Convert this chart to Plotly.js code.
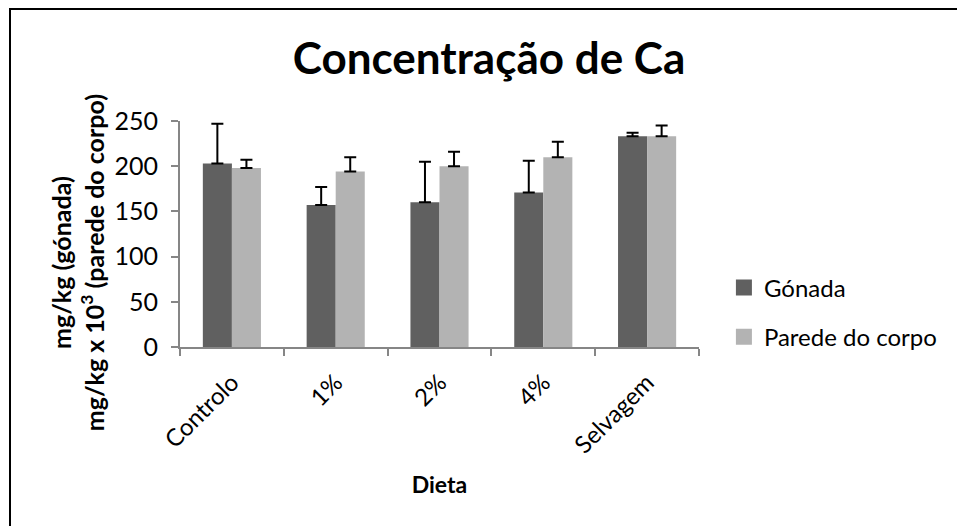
<!DOCTYPE html>
<html>
<head>
<meta charset="utf-8">
<script src="https://cdn.plot.ly/plotly-3.0.1.min.js"></script>
<style>
html,body{margin:0;padding:0;background:#fff;}
#wrap{position:relative;width:957px;height:526px;overflow:hidden;}
#chart{width:957px;height:526px;}
#frame{position:absolute;left:9px;top:8px;width:1000px;height:600px;border-top:2px solid #000;border-left:2px solid #000;pointer-events:none;}
</style>
</head>
<body>
<div id="wrap"><div id="chart"></div><div id="frame"></div></div>
<script>
const categories = ["Controlo", "1%", "2%", "4%", "Selvagem"];
const gonada = [203, 157, 160, 171, 233];
const gonadaErr = [44, 20, 45, 35, 4];
const parede = [198, 194, 200, 210, 233];
const paredeErr = [9, 16, 16, 17, 12];
const seriesNames = ["Gónada", "Parede do corpo"];
const seriesColors = ["#606060", "#b3b3b3"];
const yTicks = [0, 50, 100, 150, 200, 250];

const FONT = "Lato, 'Open Sans', sans-serif";

const traces = [
  {type: "bar", name: seriesNames[0], x: categories, y: gonada, showlegend: false,
   marker: {color: seriesColors[0]},
   error_y: {type: "data", array: gonadaErr, symmetric: false, arrayminus: gonada.map(() => 0), color: "#000", thickness: 2, width: 6}},
  {type: "bar", name: seriesNames[1], x: categories, y: parede, showlegend: false,
   marker: {color: seriesColors[1]},
   error_y: {type: "data", array: paredeErr, symmetric: false, arrayminus: parede.map(() => 0), color: "#000", thickness: 2, width: 6}},
  {type: "scatter", mode: "markers", name: seriesNames[0], legendgroup: "g", x: [null], y: [null],
   marker: {symbol: "square", size: 16, color: seriesColors[0]}},
  {type: "scatter", mode: "markers", name: seriesNames[1], legendgroup: "p", x: [null], y: [null],
   marker: {symbol: "square", size: 16, color: seriesColors[1]}}
];

const layout = {
  width: 957, height: 526,
  margin: {l: 180, r: 258, t: 121, b: 179},
  paper_bgcolor: "#fff", plot_bgcolor: "#fff",
  font: {family: FONT, color: "#000", size: 24},
  barmode: "group", bargap: 0.44, bargroupgap: 0,
  title: {text: "<b>Concentração de Ca</b>", font: {family: FONT, size: 44, color: "#000"},
          x: 0.511, xanchor: "center", y: 0.888, yanchor: "middle"},
  xaxis: {type: "category", showline: true, linecolor: "#868686", linewidth: 2,
          ticks: "outside", tickson: "boundaries", ticklen: 7, tickcolor: "#868686", tickwidth: 2,
          tickangle: -45, tickfont: {size: 24, family: FONT}, ticklabelstandoff: 10,
          title: {text: "<b>Dieta</b>", font: {size: 23, family: FONT}, standoff: 19},
          showgrid: false, zeroline: false, fixedrange: true},
  yaxis: {range: [0, 250], tickvals: yTicks, showline: true, linecolor: "#868686", linewidth: 2,
          ticks: "outside", ticklen: 7, tickcolor: "#868686", tickwidth: 2,
          tickfont: {size: 25, family: FONT}, ticklabelstandoff: 8,
          showgrid: false, zeroline: false, fixedrange: true},
  legend: {x: 1.048, y: 0.153, xanchor: "left", yanchor: "middle", font: {size: 24, family: FONT},
           itemwidth: 30, tracegroupgap: 15, bgcolor: "rgba(0,0,0,0)", traceorder: "grouped"},
  annotations: [
    {text: "<b>mg/kg (gónada)</b><br><b>mg/kg x 10<sup>3</sup> (parede do corpo)</b>",
     xref: "paper", yref: "paper", x: -0.196, y: 0.372, xanchor: "center", yanchor: "middle",
     textangle: -90, showarrow: false, align: "center", font: {size: 25, family: FONT}}
  ],
  showlegend: true
};

Plotly.newPlot("chart", traces, layout, {displayModeBar: false, staticPlot: true});
</script>
</body>
</html>
